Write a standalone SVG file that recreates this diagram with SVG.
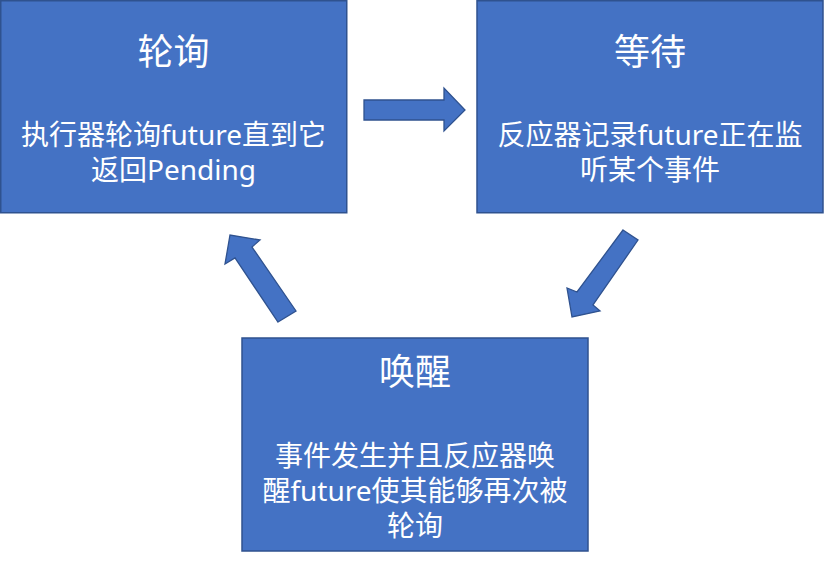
<svg xmlns="http://www.w3.org/2000/svg" width="824" height="561" viewBox="0 0 824 561">
<style>
.box{fill:#4472c4;stroke:#2f528f;stroke-width:1.5}
.arr{fill:#4472c4;stroke:#2f528f;stroke-width:1.3;stroke-linejoin:miter}
.t{fill:#ffffff;font-family:"Noto Sans","Noto Sans CJK SC",sans-serif;text-anchor:middle}
.h{font-size:36px}
.b{font-size:28px}
</style>
<rect width="824" height="561" fill="#ffffff"/>
<g id="node-poll">
<rect class="box" x="0.75" y="0.75" width="346" height="212"/>
<text class="t h" x="173.5" y="65">轮询</text>
<text class="t b" x="173.5" y="145">执行器轮询future直到它</text>
<text class="t b" x="173.5" y="180">返回Pending</text>
</g>
<g id="node-wait">
<rect class="box" x="477" y="0.75" width="346" height="212"/>
<text class="t h" x="650" y="65">等待</text>
<text class="t b" x="650" y="145">反应器记录future正在监</text>
<text class="t b" x="650" y="180">听某个事件</text>
</g>
<g id="node-wake">
<rect class="box" x="242" y="338" width="346" height="213"/>
<text class="t h" x="415" y="385">唤醒</text>
<text class="t b" x="415" y="466">事件发生并且反应器唤</text>
<text class="t b" x="415" y="501">醒future使其能够再次被</text>
<text class="t b" x="415" y="536">轮询</text>
</g>
<g id="connectors">
<polygon class="arr" points="364,100 444,100 444,88 465,110 444,131 444,120 364,120"/>
<polygon class="arr" points="623,230 638,240 593,305 600,311 572,317 567,288 577,292"/>
<polygon class="arr" points="278,322 296,311 252,247 260,240 230,235 225,264 235,258"/>
</g>
</svg>
